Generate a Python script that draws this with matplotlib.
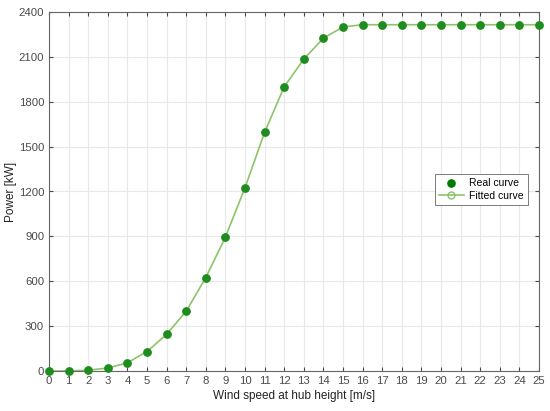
import matplotlib
matplotlib.use("Agg")
import matplotlib.pyplot as plt

wind_speed = list(range(0, 26))
real_power = [0, 0, 5, 20, 55, 130, 245, 400, 625, 895, 1225, 1595, 1900, 2085, 2225, 2300,
              2315, 2315, 2315, 2315, 2315, 2315, 2315, 2315, 2315, 2315]
fitted_power = [0, 0, 5, 20, 55, 130, 245, 400, 625, 895, 1225, 1595, 1900, 2085, 2225, 2300,
                2315, 2315, 2315, 2315, 2315, 2315, 2315, 2315, 2315, 2315]
x_ticks = list(range(0, 26))
y_ticks = [0, 300, 600, 900, 1200, 1500, 1800, 2100, 2400]

plt.rcParams['font.family'] = ['Liberation Sans', 'DejaVu Sans']
fig = plt.figure(figsize=(5.5, 4.11), dpi=100)
ax = fig.add_axes([49/550, 40/411, 490/550, 359/411])

ax.plot(wind_speed, real_power, 'o', color='#1e8c1e', markersize=5.2, label='Real curve',
        zorder=3, clip_on=False)
ax.plot(wind_speed, fitted_power, '-o', color='#8cc46a', markerfacecolor='none', markersize=5,
        linewidth=1.2, label='Fitted curve', zorder=2, clip_on=False)

ax.set_xlim(0, 25)
ax.set_ylim(0, 2400)
ax.set_xticks(x_ticks)
ax.set_yticks(y_ticks)
ax.grid(True, color='#e8e8e8', linewidth=0.8)
ax.set_axisbelow(True)
ax.tick_params(direction='in', length=3, labelsize=8.2, colors='#4a4a4a', top=True, right=True,
               labeltop=False, labelright=False, pad=3.5)
for s in ax.spines.values():
    s.set_color('#666666')
    s.set_linewidth(0.8)
ax.set_xlabel('Wind speed at hub height [m/s]', fontsize=8.5, color='#222222', labelpad=3)
ax.set_ylabel('Power [kW]', fontsize=8.5, color='#222222')
ax.yaxis.set_label_coords(-0.066, 0.5)

leg = ax.legend(loc='center right', bbox_to_anchor=(0.988, 0.505), fontsize=7.5, fancybox=False,
                framealpha=1, edgecolor='#666666', handlelength=2.4, borderpad=0.4,
                labelspacing=0.25, handletextpad=0.5)
leg.get_frame().set_linewidth(0.6)
leg.legend_handles[0].set_color('#007a00')

fig.savefig('out.png', dpi=100)
